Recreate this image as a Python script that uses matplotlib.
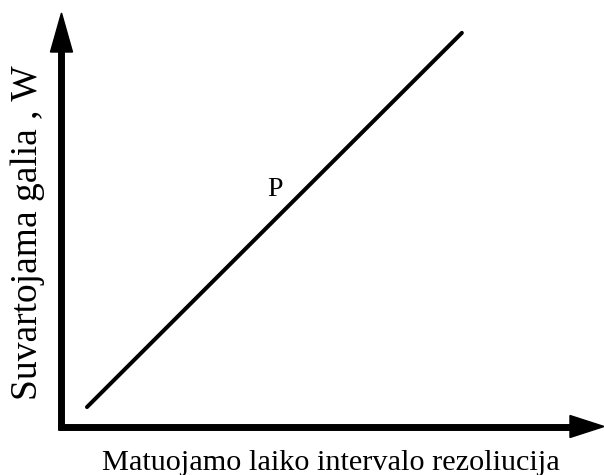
import matplotlib.pyplot as plt
from matplotlib.patches import Polygon

plt.rcParams['font.family'] = ['Liberation Serif', 'DejaVu Serif']

# P line: resolution vs consumed power (arbitrary units)
resolution = [4.7, 73.8]
power = [4.7, 95.2]
curve_label = 'P'
label_pos = (39.4, 57.2)
x_title = 'Matuojamo laiko intervalo rezoliucija'
y_title = 'Suvartojama galia , W'

fig = plt.figure(figsize=(6.04, 4.75), dpi=100)
ax = fig.add_axes([0.1018, 0.1021, 0.8982, 0.8705])
ax.set_xlim(0, 100)
ax.set_ylim(0, 100)
ax.axis('off')

ax.plot(resolution, power, color='black', lw=2.9, solid_capstyle='round')
ax.text(label_pos[0], label_pos[1], curve_label, fontsize=20,
        ha='center', va='center')

# axis arrows: thick shafts plus filled triangular heads
tr = ax.transAxes
ax.plot([-0.0065, 0.94], [0, 0], color='black', lw=5, solid_capstyle='butt',
        transform=tr, clip_on=False)
ax.plot([0, 0], [-0.0085, 0.91], color='black', lw=5, solid_capstyle='butt',
        transform=tr, clip_on=False)
ax.add_patch(Polygon([[0.9373, -0.0266], [1.0, 0], [0.9373, 0.0266]],
                     closed=True, color='black', transform=tr, clip_on=False))
ax.add_patch(Polygon([[-0.0203, 0.9057], [0, 1.0], [0.0203, 0.9057]],
                     closed=True, color='black', transform=tr, clip_on=False))

fig.text(331 / 604, 1 - 470 / 475, x_title, fontsize=21.8, ha='center',
         va='baseline')
fig.text(37 / 604, 1 - 233 / 475, y_title, fontsize=27, ha='center',
         va='baseline', rotation=90, rotation_mode='anchor')

fig.savefig('out.png', dpi=100)
